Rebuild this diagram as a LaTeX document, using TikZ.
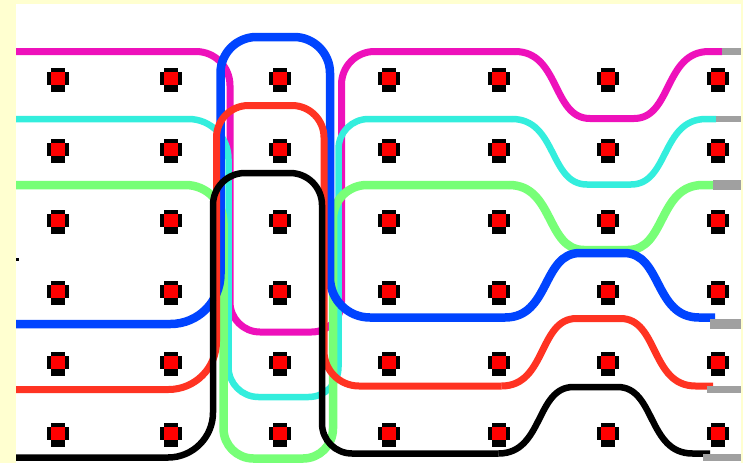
\documentclass[tikz,border=0pt]{standalone}
\definecolor{cmag}{RGB}{238,17,187}
\definecolor{ccyan}{RGB}{51,238,221}
\definecolor{cgreen}{RGB}{119,255,119}
\definecolor{cblue}{RGB}{0,68,255}
\definecolor{cred}{RGB}{255,51,34}
\definecolor{cgray}{RGB}{160,160,160}
\definecolor{cbg}{RGB}{255,255,208}
\begin{document}
\begin{tikzpicture}[x=1pt,y=-1pt,
  wmag/.style={draw=cmag,line width=7pt,line join=round},
  wcyan/.style={draw=ccyan,line width=6.5pt,line join=round},
  wgreen/.style={draw=cgreen,line width=8.5pt,line join=round},
  wblue/.style={draw=cblue,line width=8.5pt,line join=round},
  wred/.style={draw=cred,line width=7pt,line join=round},
  wblack/.style={draw=black,line width=6.5pt,line join=round},
  stub/.style={draw=cgray,line width=#1},
  stub/.default=7pt]
\useasboundingbox (0,0) rectangle (743,463);
\fill[cbg] (0,0) rectangle (743,463);
\fill[white] (16,4) rectangle (741,463);
\fill[black] (16,258) rectangle (19,261);
% dots
\foreach \x in {58,170.5,280,389,498.5,608,717.5}{
  \foreach \y in {80,151,222,293,364,435}{
    \fill[black] (\x-11,\y-8) rectangle (\x+11,\y+5);
    \fill[black] (\x-7,\y-12) rectangle (\x+7,\y+12);
    \fill[red] (\x-7,\y-8) rectangle (\x+7,\y+5);
  }
}
% magenta
\draw[wmag,rounded corners=34pt] (16,51.5) -- (230,51.5) -- (230,200);
\draw[wmag,rounded corners=30pt] (230,200) -- (230,332) -- (341.5,332) -- (341.5,200);
\draw[wmag,rounded corners=33pt] (341.5,200) -- (341.5,51.5) -- (515,51.5);
\draw[wmag] (515,51.5) .. controls (560,51.5) and (552,118.5) .. (590,118.5) -- (634,118.5) .. controls (672,118.5) and (664,51.5) .. (709,51.5) -- (722,51.5);
% cyan
\draw[wcyan,rounded corners=40pt] (16,119) -- (228.5,119) -- (228.5,250);
\draw[wcyan,rounded corners=30pt] (228.5,250) -- (228.5,397) -- (338.5,397) -- (338.5,250);
\draw[wcyan,rounded corners=30pt] (338.5,250) -- (338.5,119) -- (512,119);
\draw[wcyan] (512,119) .. controls (557,119) and (549,184.5) .. (587,184.5) -- (631,184.5) .. controls (669,184.5) and (661,119) .. (706,119) -- (716,119);
% green
\draw[wgreen,rounded corners=38pt] (16,185) -- (223.5,185) -- (223.5,300);
\draw[wgreen,rounded corners=30pt] (223.5,300) -- (223.5,458.5) -- (333,458.5) -- (333,300);
\draw[wgreen,rounded corners=34pt] (333,300) -- (333,185) -- (509,185);
\draw[wgreen] (509,185) .. controls (554,185) and (546,250) .. (584,250) -- (628,250) .. controls (666,250) and (658,185) .. (703,185) -- (713,185);
% blue
\draw[wblue,rounded corners=50pt] (16,324) -- (220.5,324) -- (220.5,200);
\draw[wblue,rounded corners=36pt] (220.5,200) -- (220.5,37) -- (330,37) -- (330,200);
\draw[wblue,rounded corners=40pt] (330,200) -- (330,317.5) -- (505,317.5);
\draw[wblue] (505,317.5) .. controls (550,317.5) and (542,253) .. (580,253) -- (624,253) .. controls (662,253) and (654,317.5) .. (699,317.5) -- (715,317.5);
% red
\draw[wred,rounded corners=48pt] (16,389.5) -- (216.5,389.5) -- (216.5,250);
\draw[wred,rounded corners=32pt] (216.5,250) -- (216.5,105.5) -- (324,105.5) -- (324,250);
\draw[wred,rounded corners=35pt] (324,250) -- (324,386) -- (501.5,386);
\draw[wred] (501.5,386) .. controls (546.5,386) and (538.5,318.5) .. (576.5,318.5) -- (620.5,318.5) .. controls (658.5,318.5) and (650.5,386) .. (695.5,386) -- (713,386);
% black
\draw[wblack,rounded corners=45pt] (16,457.5) -- (213,457.5) -- (213,300);
\draw[wblack,rounded corners=32pt] (213,300) -- (213,173) -- (322,173) -- (322,300);
\draw[wblack,rounded corners=30pt] (322,300) -- (322,453.5) -- (498.5,453.5);
\draw[wblack] (498.5,453.5) .. controls (543.5,453.5) and (535.5,387) .. (573.5,387) -- (617.5,387) .. controls (655.5,387) and (647.5,453.5) .. (692.5,453.5) -- (710,453.5);
% gray stubs
\draw[stub] (722,51.5) -- (741,51.5);
\draw[stub=6pt] (716,119) -- (741,119);
\draw[stub=10pt] (713,185) -- (741,185);
\draw[stub=10pt] (710,324) -- (741,324);
\draw[stub] (707,389.5) -- (741,389.5);
\draw[stub] (703,457.5) -- (741,457.5);
\end{tikzpicture}
\end{document}
